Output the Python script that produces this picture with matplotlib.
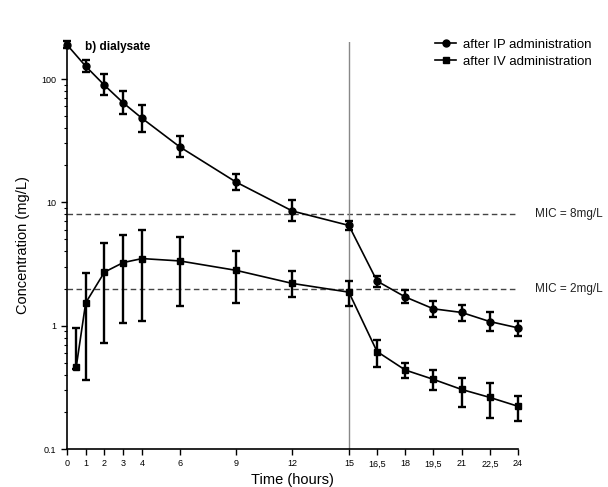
import matplotlib
matplotlib.use("Agg")
import matplotlib.pyplot as plt
from matplotlib.ticker import LogLocator, NullFormatter

############################################################################
# Data
############################################################################

t_ip = [0, 1, 2, 3, 4, 6, 9, 12, 15, 16.5, 18, 19.5, 21, 22.5, 24]
c_ip = [190, 127, 89, 64, 48, 28.2, 14.6, 8.5, 6.5, 2.3, 1.71, 1.37, 1.28, 1.08, 0.96]
ip_lo = [12, 12, 15, 12, 11, 5.0, 2.0, 1.5, 0.5, 0.25, 0.18, 0.20, 0.18, 0.18, 0.13]
ip_hi = [12, 15, 20, 16, 14, 6.0, 2.4, 1.9, 0.5, 0.25, 0.22, 0.22, 0.18, 0.20, 0.14]

t_iv = [0.5, 1, 2, 3, 4, 6, 9, 12, 15, 16.5, 18, 19.5, 21, 22.5, 24]
c_iv = [0.466, 1.53, 2.72, 3.25, 3.5, 3.35, 2.81, 2.2, 1.87, 0.617, 0.437, 0.367, 0.304, 0.262, 0.222]
iv_lo = [0.02, 1.17, 2.0, 2.2, 2.4, 1.9, 1.28, 0.48, 0.43, 0.157, 0.057, 0.067, 0.084, 0.082, 0.052]
iv_hi = [0.50, 1.16, 2.0, 2.2, 2.45, 1.9, 1.23, 0.56, 0.43, 0.153, 0.063, 0.07, 0.076, 0.078, 0.048]

x_ticks = [0, 1, 2, 3, 4, 6, 9, 12, 15, 16.5, 18, 19.5, 21, 22.5, 24]
x_labels = ["0", "1", "2", "3", "4", "6", "9", "12", "15", "16,5", "18", "19,5", "21", "22,5", "24"]

mic = [8, 2]
mic_labels = ["MIC = 8mg/L", "MIC = 2mg/L"]
switch_time = 15

############################################################################
# Plot
############################################################################

plt.rcParams["font.family"] = ["Liberation Sans", "DejaVu Sans"]

fig = plt.figure(figsize=(6.08, 4.87), dpi=100)
ax = fig.add_axes([0.110, 0.078, 0.742, 0.836])

for y, lab in zip(mic, mic_labels):
    ax.plot([0, 24], [y, y], "--", color="#444444", lw=1.0, dashes=(4, 2.5))
    ax.text(24.9, y, lab, fontsize=8.5, va="center", ha="left", color="#222222")

ax.axvline(switch_time, color="#888888", lw=1.0)

ip = ax.errorbar(t_ip, c_ip, yerr=[ip_lo, ip_hi], fmt="-o", color="black", ms=5,
                 lw=1.2, elinewidth=1.7, capsize=3.2, capthick=1.7, clip_on=False)
iv = ax.errorbar(t_iv, c_iv, yerr=[iv_lo, iv_hi], fmt="-s", color="black", ms=5,
                 lw=1.2, elinewidth=1.7, capsize=3.2, capthick=1.7, clip_on=False)

ax.set_yscale("log")
ax.set_ylim(0.1, 200)
ax.set_xlim(0, 24)
ax.set_xticks(x_ticks)
ax.set_xticklabels(x_labels)
ax.set_yticks([0.1, 1, 10, 100])
ax.set_yticklabels(["0.1", "1", "10", "100"])
ax.yaxis.set_minor_locator(LogLocator(base=10, subs=range(2, 10)))
ax.yaxis.set_minor_formatter(NullFormatter())

ax.spines["top"].set_visible(False)
ax.spines["right"].set_visible(False)
ax.spines["left"].set_linewidth(1.2)
ax.spines["bottom"].set_linewidth(1.2)
ax.tick_params(axis="both", which="major", labelsize=6.5, length=4, width=1)
ax.tick_params(axis="y", which="minor", length=2.5, width=0.8)

ax.set_xlabel("Time (hours)", fontsize=10.5, labelpad=3)
ax.set_ylabel("Concentration (mg/L)", fontsize=10.5, labelpad=8)

fig.text(0.14, 0.897, "b) dialysate", fontsize=8.5, fontweight="bold")

# legend shows only line + marker, no error bars
ax.legend([ip.lines[0], iv.lines[0]], ["after IP administration", "after IV administration"],
          loc="upper left", bbox_to_anchor=(0.705, 0.934), bbox_transform=fig.transFigure,
          frameon=False, fontsize=9.5, handlelength=1.6, handletextpad=0.5,
          labelspacing=0.35, borderpad=0)

fig.savefig("out.png", dpi=100)
